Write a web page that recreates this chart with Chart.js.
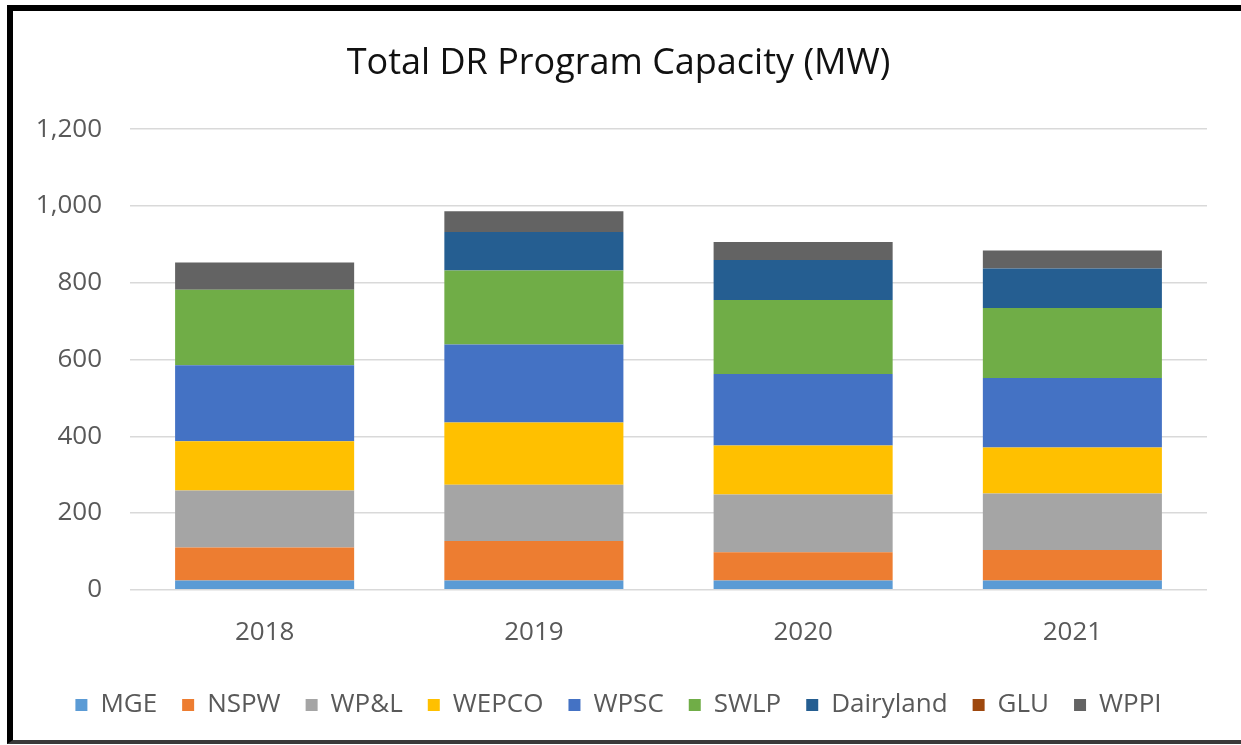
<!DOCTYPE html>
<html>
<head>
<meta charset="utf-8">
<script src="https://cdn.jsdelivr.net/npm/chart.js@4/dist/chart.umd.min.js"></script>
<style>
  html, body { margin: 0; padding: 0; background: #fff; }
  #wrap { position: relative; width: 1241px; height: 745px; overflow: hidden; }
  #frame {
    position: absolute; left: 7px; top: 5px; right: -10px; bottom: 1px;
    border-left: 6px solid #000; border-top: 6px solid #000; border-bottom: 4px solid #3a3a3a;
    pointer-events: none;
  }
  canvas { position: absolute; left: 0; top: 0; }
</style>
</head>
<body>
<div id="wrap">
  <canvas id="chart" width="1241" height="745"></canvas>
  <div id="frame"></div>
</div>
<script>
const years = ["2018", "2019", "2020", "2021"];
const utilities = ["MGE", "NSPW", "WP&L", "WEPCO", "WPSC", "SWLP", "Dairyland", "GLU", "WPPI"];
const colors = ["#5B9BD5", "#ED7D31", "#A5A5A5", "#FFC000", "#4472C4", "#70AD47", "#255E91", "#9E480E", "#636363"];

const mge = [24, 24, 24, 24];
const nspw = [86, 103, 74, 80];
const wpl = [149, 147, 150, 147];
const wepco = [128, 162, 128, 120];
const wpsc = [198, 203, 186, 181];
const swlp = [197, 193, 193, 182];
const dairyland = [0, 100, 104, 103];
const glu = [0, 0, 0, 0];
const wppi = [71, 54, 47, 47];

const yTicks = [0, 200, 400, 600, 800, 1000, 1200];

const seriesData = [mge, nspw, wpl, wepco, wpsc, swlp, dairyland, glu, wppi];
const fontFamily = "'Open Sans', sans-serif";

const datasets = seriesData.map((d, i) => ({
  label: utilities[i],
  data: d,
  backgroundColor: colors[i],
  borderWidth: 0,
  categoryPercentage: 1,
  barPercentage: 0.665,
}));

new Chart(document.getElementById("chart").getContext("2d"), {
  type: "bar",
  data: { labels: years, datasets: datasets },
  options: {
    responsive: false,
    animation: false,
    layout: { padding: { left: 30, right: 34, top: 0, bottom: 17 } },
    scales: {
      x: {
        stacked: true,
        grid: { display: false },
        border: { display: false },
        ticks: { color: "#595959", font: { family: fontFamily, size: 26 }, padding: 19 },
      },
      y: {
        stacked: true,
        min: 0,
        max: 1200,
        afterFit: (s) => { s.width = 100; },
        afterBuildTicks: (s) => { s.ticks = yTicks.map((v) => ({ value: v })); },
        grid: { color: "#D9D9D9", lineWidth: 1.5, drawTicks: false },
        border: { display: false },
        ticks: { color: "#595959", font: { family: fontFamily, size: 26 }, padding: 28 },
      },
    },
    plugins: {
      title: {
        display: true,
        text: "Total DR Program Capacity (MW)",
        color: "#111",
        font: { family: fontFamily, size: 36, weight: "normal" },
        padding: { top: 42, bottom: 44 },
      },
      legend: {
        position: "bottom",
        labels: {
          color: "#595959",
          font: { family: fontFamily, size: 26 },
          boxWidth: 12,
          boxHeight: 12,
          padding: 25,
        },
      },
      tooltip: { enabled: false },
    },
  },
});
</script>
</body>
</html>
